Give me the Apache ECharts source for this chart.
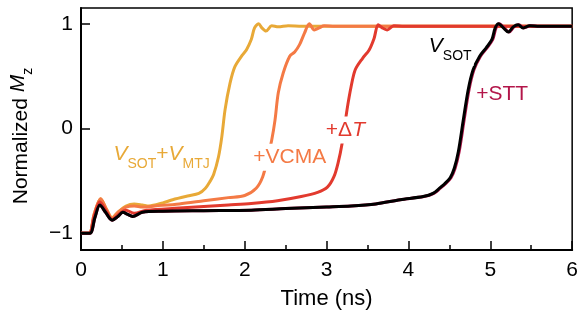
<!DOCTYPE html>
<html><head><meta charset="utf-8">
<script src="https://cdn.jsdelivr.net/npm/echarts@6/dist/echarts.min.js"></script>
<style>html,body{margin:0;padding:0;background:#fff}#c{width:581px;height:320px}</style>
</head><body><div id="c"></div><script>
const xTicks = [0, 1, 2, 3, 4, 5, 6];
const yTicks = [-1, 0, 1];

const tYellow = [0, 0.1, 0.16, 0.24, 0.31, 0.38, 0.45, 0.55, 0.65, 0.75, 0.83, 1.0, 1.12, 1.3, 1.44, 1.52, 1.58, 1.62, 1.68, 1.72, 1.76, 1.82, 1.88, 1.97, 2.02, 2.08, 2.12, 2.17, 2.21, 2.26, 2.33, 2.41, 2.53, 2.7, 3.0, 6.0];
const mYellow = [-1, -1, -0.82, -0.67, -0.77, -0.85, -0.80, -0.74, -0.72, -0.73, -0.74, -0.71, -0.68, -0.645, -0.62, -0.57, -0.50, -0.44, -0.27, -0.08, 0.18, 0.43, 0.59, 0.70, 0.75, 0.85, 0.96, 1.0, 0.96, 0.93, 0.98, 0.97, 0.98, 0.975, 0.975, 0.975];

const tVcma = [0, 0.1, 0.16, 0.24, 0.31, 0.38, 0.45, 0.55, 0.65, 0.75, 0.9, 1.2, 1.5, 1.8, 2.0, 2.14, 2.22, 2.28, 2.33, 2.37, 2.41, 2.47, 2.55, 2.61, 2.67, 2.73, 2.79, 2.85, 2.91, 2.97, 3.1, 6.0];
const mVcma = [-1, -1, -0.82, -0.67, -0.77, -0.86, -0.80, -0.75, -0.74, -0.75, -0.74, -0.72, -0.69, -0.66, -0.64, -0.57, -0.46, -0.28, -0.11, 0.08, 0.34, 0.53, 0.69, 0.73, 0.80, 0.91, 1.0, 0.94, 0.96, 0.98, 0.975, 0.975];

const tDeltaT = [0, 0.1, 0.16, 0.23, 0.31, 0.38, 0.46, 0.55, 0.65, 0.8, 1.2, 1.8, 2.08, 2.4, 2.69, 2.89, 3.01, 3.09, 3.14, 3.19, 3.25, 3.30, 3.35, 3.44, 3.52, 3.58, 3.63, 3.68, 3.74, 3.82, 3.95, 6.0];
const mDeltaT = [-1, -1, -0.84, -0.70, -0.79, -0.87, -0.82, -0.78, -0.81, -0.78, -0.76, -0.73, -0.716, -0.69, -0.65, -0.61, -0.56, -0.46, -0.33, -0.14, 0.18, 0.40, 0.56, 0.67, 0.75, 0.86, 0.99, 0.96, 0.94, 0.98, 0.975, 0.975];

const tStt = [0, 0.11, 0.17, 0.23, 0.3, 0.38, 0.45, 0.51, 0.57, 0.63, 0.75, 1.0, 1.5, 2.08, 2.5, 3.0, 3.3, 3.6, 3.9, 4.19, 4.31, 4.39, 4.45, 4.52, 4.57, 4.62, 4.68, 4.74, 4.80, 4.88, 4.96, 5.03, 5.07, 5.11, 5.17, 5.23, 5.29, 5.35, 5.41, 5.49, 5.6, 6.0];
const mStt = [-1, -1, -0.85, -0.73, -0.80, -0.875, -0.84, -0.80, -0.82, -0.84, -0.80, -0.79, -0.785, -0.78, -0.765, -0.75, -0.74, -0.72, -0.68, -0.65, -0.62, -0.57, -0.53, -0.47, -0.38, -0.22, 0.08, 0.37, 0.56, 0.69, 0.77, 0.85, 0.96, 1.0, 0.96, 0.92, 0.97, 0.99, 0.96, 0.98, 0.975, 0.975];

const tSot = [0, 0.11, 0.17, 0.23, 0.3, 0.38, 0.45, 0.51, 0.57, 0.63, 0.75, 1.0, 1.5, 2.08, 2.5, 3.0, 3.3, 3.6, 3.9, 4.18, 4.3, 4.38, 4.44, 4.51, 4.56, 4.61, 4.67, 4.73, 4.79, 4.87, 4.95, 5.02, 5.06, 5.10, 5.16, 5.22, 5.28, 5.34, 5.40, 5.48, 5.6, 6.0];
const mSot = [-1, -1, -0.85, -0.73, -0.80, -0.875, -0.84, -0.80, -0.82, -0.84, -0.80, -0.79, -0.785, -0.78, -0.765, -0.75, -0.74, -0.72, -0.68, -0.65, -0.62, -0.57, -0.53, -0.47, -0.38, -0.22, 0.08, 0.37, 0.56, 0.69, 0.77, 0.85, 0.96, 1.0, 0.96, 0.92, 0.97, 0.99, 0.96, 0.98, 0.975, 0.975];

const C_Y = '#E8A937', C_O = '#F47A45', C_R = '#E23A2E', C_S = '#B3164A', C_K = '#000000';
const FONT = 'Liberation Sans, Arial, sans-serif';
const zip = (t, m) => t.map((v, i) => [v, m[i]]);

function sub(color) {
  return {
    v: {fontStyle: 'italic', fontSize: 21, color, fontFamily: FONT, lineHeight: 21, verticalAlign: 'top'},
    n: {fontSize: 21, color, fontFamily: FONT, lineHeight: 21, verticalAlign: 'top'},
    s: {fontSize: 14, color, fontFamily: FONT, lineHeight: 27, verticalAlign: 'bottom'}
  };
}
function lab(coord, text, color) {
  return {
    coord,
    label: {show: true, position: 'inside', formatter: text, color, fontSize: 21, fontFamily: FONT,
      backgroundColor: '#fff', padding: [3, 2], rich: sub(color)}
  };
}

const chart = echarts.init(document.getElementById('c'), null, {renderer: 'canvas'});
const lineBase = (name, data, color, z) => ({
  name, type: 'line', data, showSymbol: false, smooth: 0.3, z,
  lineStyle: {color, width: 3}, itemStyle: {color}, animation: false, silent: true
});
const sot = lineBase('VSOT', zip(tSot, mSot), C_K, 6);
sot.markPoint = {
  symbol: 'rect', symbolSize: 1, itemStyle: {color: 'rgba(0,0,0,0)'}, silent: true, animation: false, z: 10,
  data: [
    lab([0.985, -0.275], '{v|V}{s|SOT}{n|+}{v|V}{s|MTJ}', C_Y),
    lab([2.55, -0.275], '{n|+VCMA}', C_O),
    lab([3.23, -0.015], '{n|+Δ}{v|T}', C_R),
    lab([4.51, 0.755], '{v|V}{s|SOT}', C_K),
    lab([5.145, 0.33], '{n|+STT}', C_S)
  ]
};

chart.setOption({
  animation: false,
  textStyle: {fontFamily: FONT},
  grid: {left: 78, right: 7, top: 8, bottom: 70, show: true, borderColor: '#000', borderWidth: 1.5, backgroundColor: 'transparent'},
  xAxis: {
    type: 'value', min: 0, max: 6, interval: 1,
    axisLine: {show: true, onZero: false, lineStyle: {color: '#000', width: 2}},
    axisTick: {show: true, inside: true, length: 9, lineStyle: {color: '#000', width: 1.5}},
    minorTick: {show: true, splitNumber: 2, length: 5, lineStyle: {color: '#000', width: 1.5}},
    axisLabel: {fontSize: 21, color: '#000', margin: 10, fontFamily: FONT, customValues: xTicks},
    splitLine: {show: false}, minorSplitLine: {show: false},
    name: 'Time (ns)', nameLocation: 'middle', nameGap: 38,
    nameTextStyle: {fontSize: 22, color: '#000', fontFamily: FONT}
  },
  yAxis: {
    type: 'value', min: -1.16, max: 1.15,
    axisLine: {show: true, onZero: false, lineStyle: {color: '#000', width: 2}},
    axisTick: {show: true, inside: true, length: 9, customValues: yTicks, lineStyle: {color: '#000', width: 1.5}},
    axisLabel: {fontSize: 21, color: '#000', margin: 8, fontFamily: FONT, customValues: yTicks,
      formatter: v => v < 0 ? '\u2212' + Math.abs(v) : String(v)},
    splitLine: {show: false},
    name: 'Normalized {i|M}{s|z}', nameLocation: 'middle', nameGap: 46, nameRotate: 90,
    nameTextStyle: {fontSize: 21, color: '#000', fontFamily: FONT, padding: [0, 14, 0, 0],
      rich: {
        i: {fontStyle: 'italic', fontSize: 21, color: '#000', fontFamily: FONT, lineHeight: 21, verticalAlign: 'top'},
        s: {fontSize: 14, color: '#000', fontFamily: FONT, lineHeight: 27, verticalAlign: 'bottom'}
      }}
  },
  series: [
    lineBase('VSOT+VMTJ', zip(tYellow, mYellow), C_Y, 2),
    lineBase('VCMA', zip(tVcma, mVcma), C_O, 3),
    lineBase('DeltaT', zip(tDeltaT, mDeltaT), C_R, 4),
    lineBase('STT', zip(tStt, mStt), C_S, 5),
    sot
  ]
});
</script></body></html>
